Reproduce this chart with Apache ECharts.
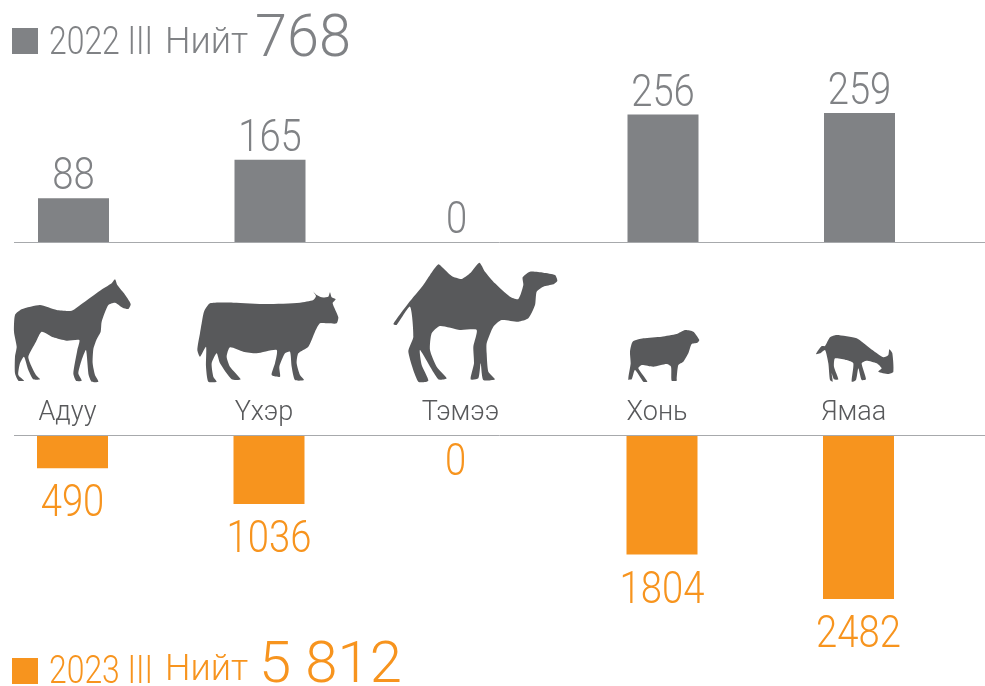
<!DOCTYPE html>
<html><head><meta charset="utf-8">
<style>html,body{margin:0;padding:0;background:#fff}#c{width:985px;height:686px}</style>
<script src="https://cdn.jsdelivr.net/npm/echarts@6/dist/echarts.min.js"></script>
</head><body><div id="c"></div>
<script>
const categories = ['Адуу','Үхэр','Тэмээ','Хонь','Ямаа'];
const values2022 = [88,165,0,256,259];
const values2023 = [490,1036,0,1804,2482];
const name2022 = '2022 III', name2023 = '2023 III';
const totalWord = 'Нийт', total2022 = '768', total2023 = '5 812';

const GRAY='#808285', ORANGE='#F7941E', ICON='#58595B', LINE='#A7A9AC';
const FONT='Roboto';

const icons = [
 {o:[0,260],d:'345 58 352 75 372 100 392 132 385 147 368 143 345 128 325 135 305 185 302 215 290 238 280 268 278 310 285 345 295 365 275 365 266 345 258 270 245 300 235 340 245 362 228 362 220 340 232 270 238 240 200 242 160 232 125 215 108 245 85 290 95 320 108 345 120 358 100 358 85 330 72 290 60 310 55 345 72 362 55 362 45 340 45 290 50 260 42 215 45 165 65 148 120 135 170 150 215 152 250 128 300 92 335 70'},
 {o:[0,260],d:'612 155 630 130 700 128 800 132 900 128 940 120 948 108 940 95 950 105 965 112 985 110 990 97 995 112 1007 118 998 130 1015 172 1010 190 985 190 960 190 945 215 925 260 895 280 890 310 900 345 912 360 885 360 875 320 870 275 855 280 838 320 840 350 815 345 825 310 830 270 770 280 730 275 690 262 680 290 690 320 722 358 695 358 660 310 650 280 635 310 640 350 650 365 625 365 618 320 618 260 600 290 592 270 600 220 605 190'},
 {o:[380,250],d:'175 43 190 55 215 78 245 87 270 70 298 38 315 65 345 100 390 140 415 147 430 105 428 82 450 65 490 68 525 75 532 92 520 103 490 110 470 125 465 165 445 205 415 215 365 210 340 230 320 280 320 310 325 365 345 388 310 390 302 340 295 385 272 388 282 340 280 290 290 240 240 240 180 228 155 250 150 300 170 350 200 385 175 388 120 300 125 345 145 392 115 395 85 305 100 260 90 170 50 225 40 222 85 160 130 105 150 75'},
 {o:[610,320],d:'68 65 100 55 155 50 200 42 225 30 250 35 268 60 262 68 245 72 235 100 220 125 205 135 200 175 200 182 185 182 183 140 170 132 130 140 95 135 85 145 112 185 100 185 75 150 65 178 55 178 62 130 60 95'},
 {o:[610,320],d:'618 102 635 78 645 78 660 52 680 45 740 55 780 85 820 112 835 105 838 88 847 100 850 155 835 162 805 155 815 145 800 130 770 122 755 130 768 178 755 180 745 145 738 180 725 185 730 130 710 120 675 115 672 140 685 178 672 178 665 160 668 185 660 180 655 130 645 90 630 100'}
];
const toPoints = s => { const n = s.split(' ').map(Number), p = []; for (let i = 0; i < n.length; i += 2) p.push([n[i], n[i+1]]); return p; };

const txt=(x,y,t,size,fill,sx)=>({type:'text',x,y,scaleX:sx||1,style:{text:t,fontFamily:FONT,fontSize:size,fontWeight:300,fill,textVerticalAlign:'middle'}});
const rect=(x,y,w,h,fill)=>({type:'rect',shape:{x,y,width:w,height:h},style:{fill}});
const hline=(y)=>({type:'line',shape:{x1:14,y1:y,x2:985,y2:y},style:{stroke:LINE,lineWidth:1}});

const labelSeries=(xi,yi,values,color,below,name)=>({
  name,type:'custom',xAxisIndex:xi,yAxisIndex:yi,coordinateSystem:'cartesian2d',clip:false,silent:true,
  data:values.map((v,i)=>[i,v]),
  renderItem:(p,api)=>{
    const v=api.value(1), pt=api.coord([api.value(0),v]);
    const dy=below?(v===0?28:37):-20;
    return {type:'text',x:pt[0]-(v===0?10:0),y:pt[1]+dy,scaleX:0.85,
      style:{text:String(v),fontFamily:FONT,fontSize:45,fontWeight:300,fill:color,textAlign:'center',textVerticalAlign:'middle'}};
  }
});

const chart=echarts.init(document.getElementById('c'),null,{renderer:'canvas'});
chart.setOption({
 animation:false,
 backgroundColor:'#fff',
 grid:[
  {left:-24.75,width:982.5,top:113,height:129,outerBoundsMode:'none'},
  {left:-25.75,width:982.5,top:436,height:163,outerBoundsMode:'none'}
 ],
 xAxis:[
  {gridIndex:0,type:'category',data:categories,axisLine:{show:false},axisTick:{show:false},
   axisLabel:{show:true,interval:0,margin:158,fontFamily:FONT,fontWeight:300,fontSize:27,color:ICON,padding:[0,12,0,0]}},
  {gridIndex:1,type:'category',data:categories,position:'top',axisLine:{show:false},axisTick:{show:false},axisLabel:{show:false}}
 ],
 yAxis:[
  {gridIndex:0,type:'value',min:0,max:259,show:false,splitLine:{show:false}},
  {gridIndex:1,type:'value',min:0,max:2482,inverse:true,show:false,splitLine:{show:false}}
 ],
 series:[
  {name:name2022,type:'bar',xAxisIndex:0,yAxisIndex:0,data:values2022,barWidth:71,itemStyle:{color:GRAY}},
  {name:name2023,type:'bar',xAxisIndex:1,yAxisIndex:1,data:values2023,barWidth:71,itemStyle:{color:ORANGE}},
  labelSeries(0,0,values2022,GRAY,false,name2022+' labels'),
  labelSeries(1,1,values2023,ORANGE,true,name2023+' labels')
 ],
 graphic:{elements:[
  hline(242.5),hline(435.5),
  rect(12,28,26,26,GRAY),
  txt(49,44,name2022,38,GRAY,0.84),
  txt(165,44,totalWord,36,GRAY),
  txt(255,41,total2022,60,GRAY,0.96),
  rect(12,658,26,26,ORANGE),
  txt(49,673,name2023,38,ORANGE,0.84),
  txt(165,671,totalWord,36,ORANGE),
  txt(259,667,total2023,58,ORANGE),
  ...icons.map(i=>({type:'polygon',x:i.o[0],y:i.o[1],scaleX:1/3,scaleY:1/3,shape:{points:toPoints(i.d),smooth:0.2},style:{fill:ICON}}))
 ]}
});
</script></body></html>
